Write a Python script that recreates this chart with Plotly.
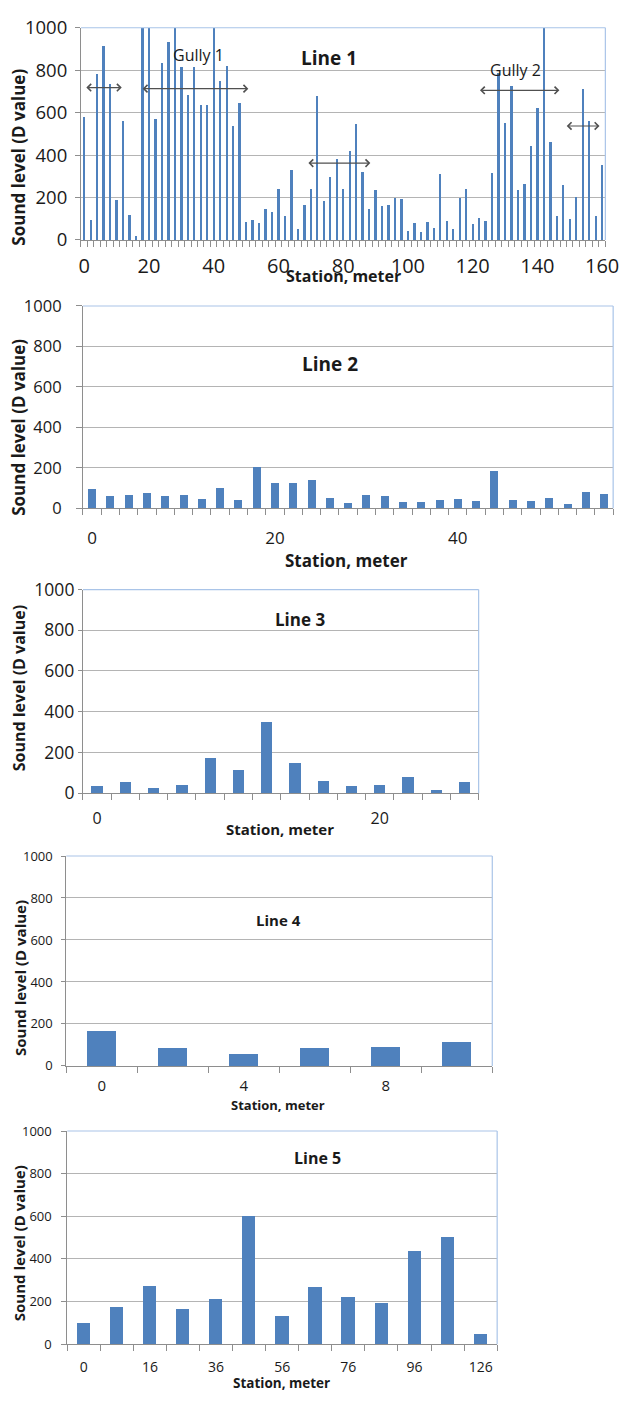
import plotly.graph_objects as go

W, H = 633, 1402

# ---------------- data ----------------
l1_stations = list(range(0, 161, 2))
l1_values = [582, 97, 782, 915, 738, 188, 560, 120, 20, 1000,
             1000, 569, 833, 932, 1000, 815, 684, 815, 637, 637,
             1000, 752, 823, 540, 647, 85, 96, 82, 147, 133,
             239, 114, 332, 51, 165, 241, 681, 184, 298, 383,
             241, 421, 548, 323, 148, 236, 162, 165, 198, 196,
             43, 82, 37, 85, 57, 313, 88, 51, 198, 241,
             74, 106, 90, 318, 787, 551, 727, 236, 267, 443,
             625, 1000, 461, 116, 262, 100, 205, 711, 562, 116, 352]

l2_stations = list(range(0, 57, 2))
l2_values = [94, 60, 66, 78, 60, 66, 45, 102, 42, 205,
             123, 126, 141, 49, 28, 68, 61, 32, 32, 42,
             47, 36, 184, 42, 36, 52, 19, 83, 71]

l3_stations = list(range(0, 27, 2))
l3_values = [37, 55, 29, 43, 174, 114, 352, 148, 63, 37, 43, 84, 18, 59]

l4_stations = [0, 2, 4, 6, 8, 10]
l4_values = [165, 87, 55, 83, 90, 114]

l5_stations = [0, 8, 16, 26, 36, 46, 56, 66, 76, 86, 96, 106, 126]
l5_values = [100, 174, 275, 167, 210, 600, 132, 267, 221, 194, 438, 501, 46]

y_ticks = [0, 200, 400, 600, 800, 1000]

titles = ["Line 1", "Line 2", "Line 3", "Line 4", "Line 5"]
x_title = "Station, meter"
y_title = "Sound level (D value)"

# ---------------- layout specs (pixels) ----------------
panels = [
    dict(st=l1_stations, val=l1_values, every=10, box=(81, 14, 619, 230), bw=0.36,
         ytf=18.5, xtf=20, tt=(335.7, 45, 19), xt=(350, 267, 16), yt=(16.7, 146, 17),
         ylen=5, ystand=4, xstand=8),
    dict(st=l2_stations, val=l2_values, every=10, box=(83, 297.3, 627, 503.3), bw=0.44,
         ytf=16.5, xtf=17, tt=(336, 356.7, 19), xt=(353, 556.7, 17), yt=(16.7, 421, 17),
         ylen=6, ystand=11, xstand=14),
    dict(st=l3_stations, val=l3_values, every=10, box=(83, 586, 489, 793.3), bw=0.4,
         ytf=17.5, xtf=16, tt=(306, 616.7, 17), xt=(285, 830, 15), yt=(17, 687, 16),
         ylen=4, ystand=0, xstand=11),
    dict(st=l4_stations, val=l4_values, every=2, box=(66, 857.3, 503, 1071), bw=0.4,
         ytf=13, xtf=15, tt=(283.3, 922.7, 15), xt=(283.3, 1111, 13), yt=(19, 982, 15),
         ylen=4, ystand=6, xstand=6),
    dict(st=l5_stations, val=l5_values, every=2, box=(67, 1137.3, 508, 1354.3), bw=0.4,
         ytf=13, xtf=14, tt=(324, 1165, 16), xt=(287, 1394, 13.5), yt=(17, 1252, 15),
         ylen=5, ystand=7, xstand=10),
]

BAR = "#4F81BD"
GRID = "#B4B4B4"
AXIS = "#8E8E8E"
BORDER = "#A9C4E8"
TXT = "#1A1A1A"
FONT = "Open Sans"


def fx(px):
    return px / W


def fy(py):
    return 1 - py / H


fig = go.Figure()
annotations = []
shapes = []

for i, p in enumerate(panels):
    n = i + 1
    xa = "x" if n == 1 else f"x{n}"
    ya = "y" if n == 1 else f"y{n}"
    idx = list(range(len(p["st"])))
    fig.add_trace(go.Bar(x=idx, y=p["val"], xaxis=xa, yaxis=ya, width=p["bw"],
                         marker=dict(color=BAR, line=dict(width=0)),
                         showlegend=False, hoverinfo="x+y"))
    x0, y0, x1, y1 = p["box"]
    tickvals = idx[::p["every"]]
    ticktext = [str(s) for s in p["st"][::p["every"]]]
    xkey = "xaxis" if n == 1 else f"xaxis{n}"
    ykey = "yaxis" if n == 1 else f"yaxis{n}"
    fig.update_layout(**{
        xkey: dict(domain=[fx(x0), fx(x1)], anchor=ya, range=[-0.5, len(idx) - 0.5],
                   tickmode="array", tickvals=tickvals, ticktext=ticktext,
                   ticks="", showgrid=False, zeroline=False,
                   showline=True, linecolor=AXIS, linewidth=1,
                   tickfont=dict(family=FONT, size=p["xtf"], color=TXT),
                   ticklabelstandoff=p["xstand"],
                   minor=dict(tickmode="linear", tick0=-0.5, dtick=1, ticks="outside",
                              ticklen=6, tickcolor=AXIS, showgrid=False),
                   fixedrange=True),
        ykey: dict(domain=[fy(y1), fy(y0)], anchor=xa, range=[0, 1000],
                   tickmode="array", tickvals=y_ticks,
                   ticks="outside", ticklen=p["ylen"], tickcolor=AXIS,
                   showgrid=True, gridcolor=GRID, gridwidth=1, zeroline=False,
                   showline=True, linecolor=AXIS, linewidth=1,
                   tickfont=dict(family=FONT, size=p["ytf"], color=TXT),
                   ticklabelstandoff=p["ystand"],
                   fixedrange=True),
    })
    shapes.append(dict(type="line", xref=f"{xa} domain", yref=f"{ya} domain",
                       x0=0, x1=1, y0=1, y1=1, line=dict(color=BORDER, width=1.2), layer="above"))
    shapes.append(dict(type="line", xref=f"{xa} domain", yref=f"{ya} domain",
                       x0=1, x1=1, y0=0, y1=1, line=dict(color=BORDER, width=1.2), layer="above"))
    tx, ty, ts = p["tt"]
    annotations.append(dict(text=f"<b>{titles[i]}</b>", x=fx(tx), y=fy(ty), xref="paper", yref="paper",
                            showarrow=False, xanchor="center", yanchor="middle",
                            font=dict(family=FONT, size=ts, color=TXT)))
    tx, ty, ts = p["xt"]
    annotations.append(dict(text=f"<b>{x_title}</b>", x=fx(tx), y=fy(ty), xref="paper", yref="paper",
                            showarrow=False, xanchor="center", yanchor="middle",
                            font=dict(family=FONT, size=ts, color=TXT)))
    tx, ty, ts = p["yt"]
    annotations.append(dict(text=f"<b>{y_title}</b>", x=fx(tx), y=fy(ty), xref="paper", yref="paper",
                            showarrow=False, xanchor="center", yanchor="middle", textangle=-90,
                            font=dict(family=FONT, size=ts, color=TXT)))

gully_labels = [("Gully 1", 17.6, 872), ("Gully 2", 66.6, 802)]
for txt, gx, gy in gully_labels:
    annotations.append(dict(text=txt, x=gx, y=gy, xref="x", yref="y", showarrow=False,
                            font=dict(family=FONT, size=16, color=TXT)))

arrows = [(0.1, 5.8, 718), (8.8, 25.35, 713), (34.4, 44.2, 362), (60.9, 73.4, 705), (74.3, 79.6, 537)]
for a0, a1, ay in arrows:
    annotations.append(dict(text="", x=a1, y=ay, ax=a0, ay=ay, xref="x", yref="y",
                            axref="x", ayref="y", showarrow=True, arrowhead=4, startarrowhead=4,
                            arrowside="end+start", arrowsize=1.3, arrowwidth=1.1,
                            arrowcolor="#505050"))

fig.update_layout(width=W, height=H, margin=dict(l=0, r=0, t=0, b=0),
                  paper_bgcolor="white", plot_bgcolor="white",
                  bargap=0, annotations=annotations, shapes=shapes,
                  font=dict(family=FONT, color=TXT))

fig.write_html("out.html", config={"displayModeBar": False},
               post_script="document.body.style.margin='0';")
